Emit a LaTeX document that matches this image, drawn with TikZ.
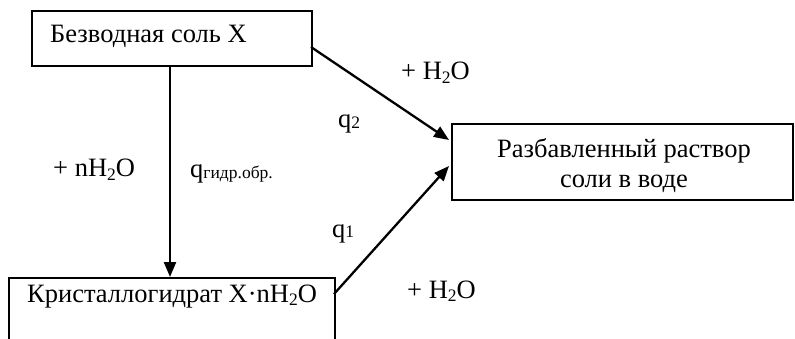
\documentclass[tikz,border=0pt]{standalone}
\usepackage{fontspec}
\setmainfont{Liberation Serif}
\usetikzlibrary{arrows.meta}
\newcommand{\sbs}[1]{\raisebox{-0.14em}{\fontsize{17.5}{18}\selectfont #1}}
\newcommand{\qsb}[1]{\raisebox{-0.03em}{\fontsize{17.5}{18}\selectfont #1}}
\begin{document}
\begin{tikzpicture}[x=1pt,y=-1pt,
  box/.style={draw,line width=2.2pt,inner sep=0pt,anchor=north west},
  conn/.style={line width=2.3pt,-{Triangle[length=15pt,width=12pt]}},
  lbl/.style={inner sep=0pt,anchor=base west},
  every node/.style={font=\fontsize{26.5}{30}\selectfont}]
\useasboundingbox (0,0) rectangle (795,339);
\clip (0,0) rectangle (795,339);
\fill[white] (0,0) rectangle (795,339);
\node[box,minimum width=280pt,minimum height=55pt] (a) at (31,10) {};
\node[lbl] (at) at (50,43) {Безводная соль X};
\node[box,minimum width=326pt,minimum height=100pt] (b) at (8,277) {};
\node[lbl] (bt) at (27,302) {Кристаллогидрат X·nH\sbs{2}O};
\node[box,minimum width=341pt,minimum height=76pt] (c) at (451,123) {};
\node[align=center,inner sep=0pt,anchor=base] (ct) at (624,188) {Разбавленный раствор\\соли в воде};
\coordinate (a1) at (170,65);
\coordinate (b1) at (170,277);
\coordinate (a2) at (311,47);
\coordinate (c2) at (449,140);
\coordinate (b3) at (334,294);
\coordinate (c3) at (449,166);
\draw[conn] (a1) -- (b1);
\draw[conn] (a2) -- (c2);
\draw[conn] (b3) -- (c3);
\node[lbl] (l1) at (401,80) {+ H\sbs{2}O};
\node[lbl] (l2) at (338,128) {q\qsb{2}};
\node[lbl] (l3) at (53,177) {+ nH\sbs{2}O};
\node[lbl] (l4) at (190,178) {q\qsb{гидр.обр.}};
\node[lbl] (l5) at (332,237) {q\qsb{1}};
\node[lbl] (l6) at (407,298) {+ H\sbs{2}O};
\end{tikzpicture}
\end{document}
